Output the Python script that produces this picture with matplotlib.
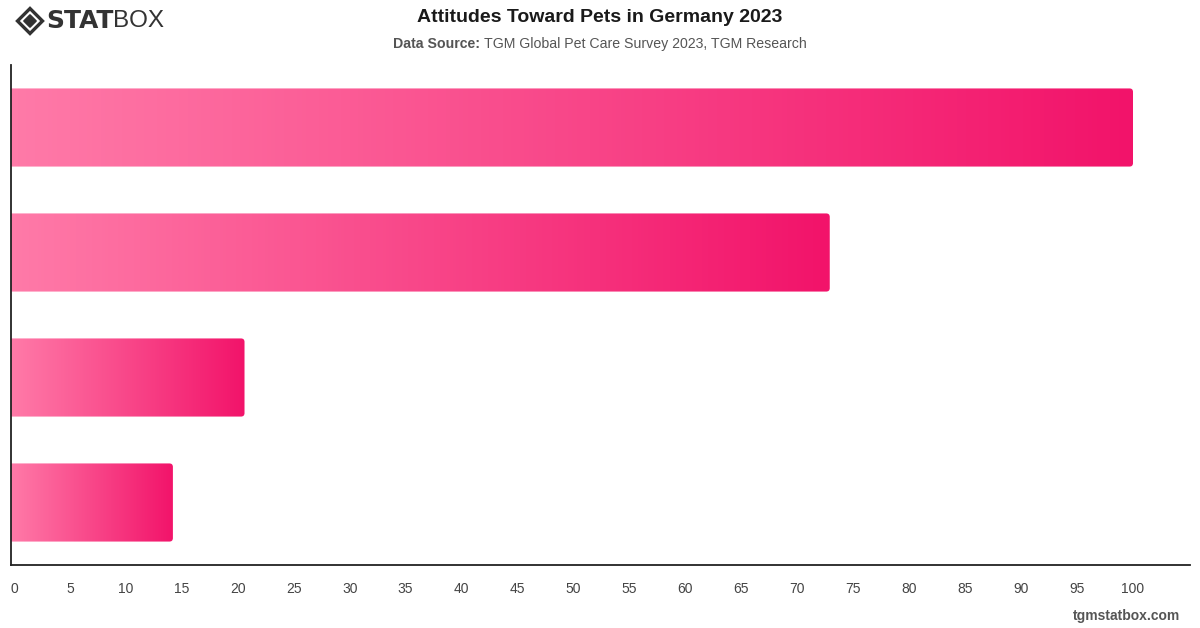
import numpy as np
import matplotlib
matplotlib.use("Agg")
import matplotlib.pyplot as plt
from matplotlib.path import Path
from matplotlib.patches import PathPatch, Polygon
from matplotlib.colors import LinearSegmentedColormap

plt.rcParams['font.family'] = ['Liberation Sans', 'DejaVu Sans']

# Data (category labels are not shown in the reference)
categories = ["Category 1", "Category 2", "Category 3", "Category 4"]
values = [100, 72.9, 20.6, 14.2]
xticks = list(range(0, 101, 5))

W, H = 1200, 628
fig = plt.figure(figsize=(W / 100, H / 100), dpi=100)
ax_left, ax_right, ax_top, ax_bot = 10.5, 1190, 65, 565
ax = fig.add_axes([ax_left / W, 1 - ax_bot / H, (ax_right - ax_left) / W, (ax_bot - ax_top) / H])

ppu = 11.19                      # pixels per unit
xmin = -(14 - ax_left) / ppu
xmax = (ax_right - 14) / ppu
ax.set_xlim(xmin, xmax)
ax.set_ylim(len(categories) - 0.5, -0.5)

cmap = LinearSegmentedColormap.from_list("pk", ["#FF7AA8", "#F2136A"])
grad = np.linspace(0, 1, 256).reshape(1, -1)

px_y = (ax_bot - ax_top) / len(categories)
rx = 3.5 / ppu
ry = 3.5 / px_y
h = 0.625

for i, v in enumerate(values):
    y0, y1 = i - h / 2, i + h / 2
    verts = [(xmin, y0), (v - rx, y0), (v, y0), (v, y0 + ry), (v, y1 - ry),
             (v, y1), (v - rx, y1), (xmin, y1), (xmin, y0)]
    codes = [Path.MOVETO, Path.LINETO, Path.CURVE3, Path.CURVE3, Path.LINETO,
             Path.CURVE3, Path.CURVE3, Path.LINETO, Path.CLOSEPOLY]
    patch = PathPatch(Path(verts, codes), facecolor='none', edgecolor='none')
    ax.add_patch(patch)
    im = ax.imshow(grad, cmap=cmap, extent=[xmin, v, y1, y0], aspect='auto',
                   interpolation='bicubic', zorder=2)
    im.set_clip_path(patch)

ax.set_xlim(xmin, xmax)
ax.set_ylim(len(categories) - 0.5, -0.5)
ax.set_aspect('auto')

ax.set_yticks([])
ax.set_xticks(xticks)
ax.set_xticklabels([str(t) for t in xticks])
ax.tick_params(axis='x', length=0, pad=12, labelsize=10, labelcolor='#444444')
for s in ['top', 'right']:
    ax.spines[s].set_visible(False)
for s in ['left', 'bottom']:
    ax.spines[s].set_color('#222222')
    ax.spines[s].set_linewidth(1.3)

# Title & subtitle
fig.text(600 / W, 1 - 17 / H, "Attitudes Toward Pets in Germany 2023",
         ha='center', va='center', fontsize=14, fontweight='bold', color='#1a1a1a')
t1 = fig.text(393 / W, 1 - 44 / H, "Data Source: ", ha='left', va='center',
              fontsize=10.2, fontweight='bold', color='#555555')
fig.canvas.draw()
bb = t1.get_window_extent()
fig.text(bb.x1 / W, 1 - 44 / H, "TGM Global Pet Care Survey 2023, TGM Research",
         ha='left', va='center', fontsize=10.2, color='#555555')

# Logo
cx, cy = 30 / W, 1 - 21 / H
dx, dy = 12.5 / W, 12.5 / H
outer = Polygon([(cx - dx, cy), (cx, cy + dy), (cx + dx, cy), (cx, cy - dy)],
                closed=True, transform=fig.transFigure, facecolor='none',
                edgecolor='#333333', linewidth=2.4)
inner = Polygon([(cx - dx * 0.5, cy), (cx, cy + dy * 0.5), (cx + dx * 0.5, cy), (cx, cy - dy * 0.5)],
                closed=True, transform=fig.transFigure, facecolor='#333333',
                edgecolor='#333333', linewidth=1)
fig.patches.extend([outer, inner])
s1 = fig.text(46 / W, 1 - 21 / H, "STAT", ha='left', va='center', fontsize=18,
              fontweight='heavy', color='#333333', family=['DejaVu Sans'])
fig.canvas.draw()
b1 = s1.get_window_extent()
fig.text(b1.x1 / W, 1 - 21 / H, "BOX", ha='left', va='center', fontsize=17.5,
         fontweight='normal', color='#333333', family=['Liberation Sans'])

# Footer
fig.text(1180 / W, 1 - 616 / H, "tgmstatbox.com", ha='right', va='center',
         fontsize=10, fontweight='bold', color='#555555')

fig.savefig("out.png", dpi=100)
